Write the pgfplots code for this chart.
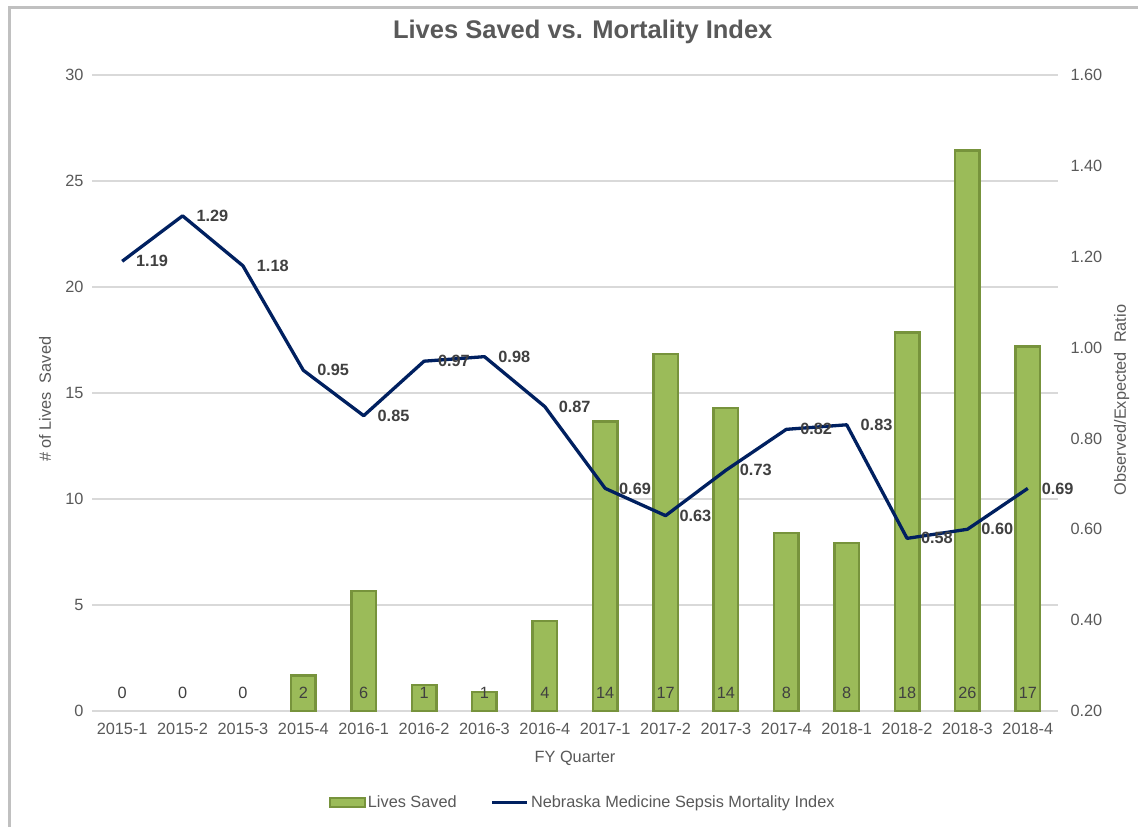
\documentclass[border=0pt]{standalone}
\usepackage{pgfplots}
\usepackage{pgfplotstable}
\pgfplotsset{compat=1.18}
\usepackage{fontspec}
\setmainfont{Liberation Sans}
\definecolor{barfill}{HTML}{9BBB59}
\definecolor{barline}{HTML}{77933C}
\definecolor{linecol}{HTML}{002060}
\definecolor{txt}{HTML}{595959}
\definecolor{labc}{HTML}{404040}
\definecolor{gridc}{HTML}{D9D9D9}
\definecolor{framec}{HTML}{C0C0C0}

\pgfplotstableread{
x lives lab
0 0 0
1 0 0
2 0 0
3 1.68 2
4 5.66 6
5 1.22 1
6 0.90 1
7 4.25 4
8 13.65 14
9 16.83 17
10 14.30 14
11 8.40 8
12 7.93 8
13 17.85 18
14 26.43 26
15 17.20 17
}\livestable

\pgfplotstableread{
x idx
0 1.19
1 1.29
2 1.18
3 0.95
4 0.85
5 0.97
6 0.98
7 0.87
8 0.69
9 0.63
10 0.73
11 0.82
12 0.83
13 0.58
14 0.60
15 0.69
}\idxtable

\newcommand{\fs}{\fontsize{16.3}{19}\selectfont}

\begin{document}
\begin{tikzpicture}
\useasboundingbox (0,0) rectangle (1138pt,827pt);
\fill[white] (0,0) rectangle (1138pt,827pt);
\draw[framec, line width=3pt] (9.5pt,0pt) -- (9.5pt,819.7pt) -- (1138pt,819.7pt);

\begin{axis}[
  at={(92pt,116pt)}, anchor=south west,
  scale only axis, width=966pt, height=636pt,
  xmin=-0.5, xmax=15.5, ymin=0, ymax=30,
  xtick={0,...,15},
  xticklabels={2015-1,2015-2,2015-3,2015-4,2016-1,2016-2,2016-3,2016-4,2017-1,2017-2,2017-3,2017-4,2018-1,2018-2,2018-3,2018-4},
  ytick={0,5,...,30},
  major tick length=0pt,
  axis line style={draw=none},
  ymajorgrids, grid style={gridc, line width=1.3pt},
  /pgf/number format/assume math mode=true,
  ticklabel style={font=\fs, text=txt},
  xticklabel style={yshift=-9pt},
  yticklabel style={xshift=-5pt},
  xlabel={FY Quarter},
  xlabel style={at={(axis description cs:0.5,-0.0745)}, anchor=center, font=\fs, text=txt},
  ylabel={\# of Lives\ \ Saved},
  ylabel style={at={(axis description cs:-0.0487,0.49)}, anchor=center, rotate=0, font=\fs, text=txt},
  title={\textbf{Lives Saved vs. Mortality Index}},
  title style={at={(axis description cs:0.508,1.058)}, anchor=center, font=\fontsize{25.5}{30}\selectfont, text=txt},
  clip=false,
]
\addplot[ybar, bar width=24.5pt, fill=barfill, draw=barline, line width=2.5pt,
  unbounded coords=discard, restrict y to domain=0.001:40]
  table[x=x, y=lives] {\livestable};
\addplot[draw=none, mark=none, nodes near coords, point meta=explicit symbolic,
  every node near coord/.style={anchor=center, yshift=18pt, font=\fs, text=labc}]
  table[x=x, y expr=0, meta=lab] {\livestable};
\end{axis}

\begin{axis}[
  at={(92pt,116pt)}, anchor=south west,
  scale only axis, width=966pt, height=636pt,
  xmin=-0.5, xmax=15.5, ymin=0.2, ymax=1.6,
  ytick={0.2,0.4,...,1.61},
  axis x line=none,
  axis y line*=right,
  y axis line style={draw=none},
  major tick length=0pt,
  /pgf/number format/assume math mode=true,
  yticklabel style={font=\fs, text=txt, xshift=9pt, /pgf/number format/.cd, fixed, fixed zerofill, precision=2},
  ylabel={Observed/Expected\ \ Ratio},
  ylabel style={at={(axis description cs:1.066,0.489)}, anchor=center, rotate=0, font=\fs, text=txt},
  clip=false,
  legend style={at={(axis description cs:0.508,-0.144)}, anchor=center, draw=none, fill=none,
    font=\fs, text=txt, legend columns=2,
    /tikz/every even column/.append style={column sep=32pt},
    nodes={inner sep=2pt}},
]
\addlegendimage{legend image code/.code={\draw[fill=barfill, draw=barline, line width=2pt] (0pt,-4.5pt) rectangle (35pt,4.5pt);}}
\addlegendentry{Lives Saved}
\addplot[linecol, line width=3.3pt, line join=round, mark=none,
  legend image code/.code={\draw[linecol, line width=3.3pt] (0pt,0pt) -- (35pt,0pt);},
  nodes near coords={\pgfmathprintnumber[fixed,fixed zerofill,precision=2]{\pgfplotspointmeta}},
  point meta=y,
  every node near coord/.style={anchor=west, xshift=9pt, font=\fs\bfseries, text=labc}]
  table[x=x, y=idx] {\idxtable};
\addlegendentry{Nebraska Medicine Sepsis Mortality Index}
\end{axis}
\end{tikzpicture}
\end{document}
